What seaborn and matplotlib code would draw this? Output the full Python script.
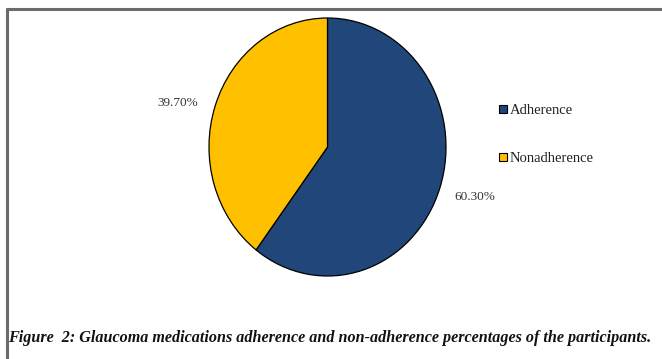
import matplotlib.pyplot as plt
import seaborn as sns
from matplotlib.lines import Line2D
from matplotlib.patches import Patch

sns.set_theme(style="white")
plt.rcParams['font.family'] = ['Liberation Serif', 'DejaVu Serif']

groups = ['Adherence', 'Nonadherence']
shares = [60.30, 39.70]
share_labels = ['60.30%', '39.70%']
colors = ['#21467A', '#FFC000']

W, H = 662, 359
fig = plt.figure(figsize=(W / 100, H / 100), dpi=100)
fig.patch.set_facecolor('white')

# pie is stretched a bit taller than wide, like the original
ax = fig.add_axes([209 / W, 1 - 276 / H, 237 / W, 258 / H])
wedges, texts = ax.pie(shares, colors=colors, startangle=90, counterclock=False,
                       labels=share_labels, labeldistance=1.3,
                       wedgeprops=dict(edgecolor='black', linewidth=0.9),
                       textprops=dict(fontsize=9.5, color='#333333'))
ax.set_aspect('auto')
ax.set_xlim(-1, 1)
ax.set_ylim(-1, 1)
ax.axis('off')

# move the value labels to where the original puts them
texts[0].set_position((1.24, -0.39))
texts[1].set_position((-1.26, 0.34))
for t in texts:
    t.set_ha('center')
    t.set_va('center')

handles = [Patch(facecolor=c, edgecolor='black', linewidth=0.8) for c in colors]
leg = fig.legend(handles, groups, loc='upper left',
                 bbox_to_anchor=(492 / W, 1 - 97 / H),
                 frameon=False, fontsize=10.5, handlelength=0.5, handleheight=0.5,
                 handletextpad=0.2, labelspacing=2.4, borderpad=0)
for t in leg.get_texts():
    t.set_color('#222222')

fig.text(8 / W, 1 - 338 / H,
         'Figure  2: Glaucoma medications adherence and non-adherence percentages of the participants.',
         fontsize=11.6, style='italic', weight='bold', ha='left', va='center', color='#111111')

# frame of the original screenshot (only top and left edges are visible)
fig.add_artist(Line2D([7 / W, 1], [1 - 9 / H, 1 - 9 / H], transform=fig.transFigure,
                      color='#6b6b6b', linewidth=2.2))
fig.add_artist(Line2D([7 / W, 7 / W], [1 - 9 / H, 0], transform=fig.transFigure,
                      color='#6b6b6b', linewidth=2.2))

fig.savefig('out.png', dpi=100, facecolor='white')
